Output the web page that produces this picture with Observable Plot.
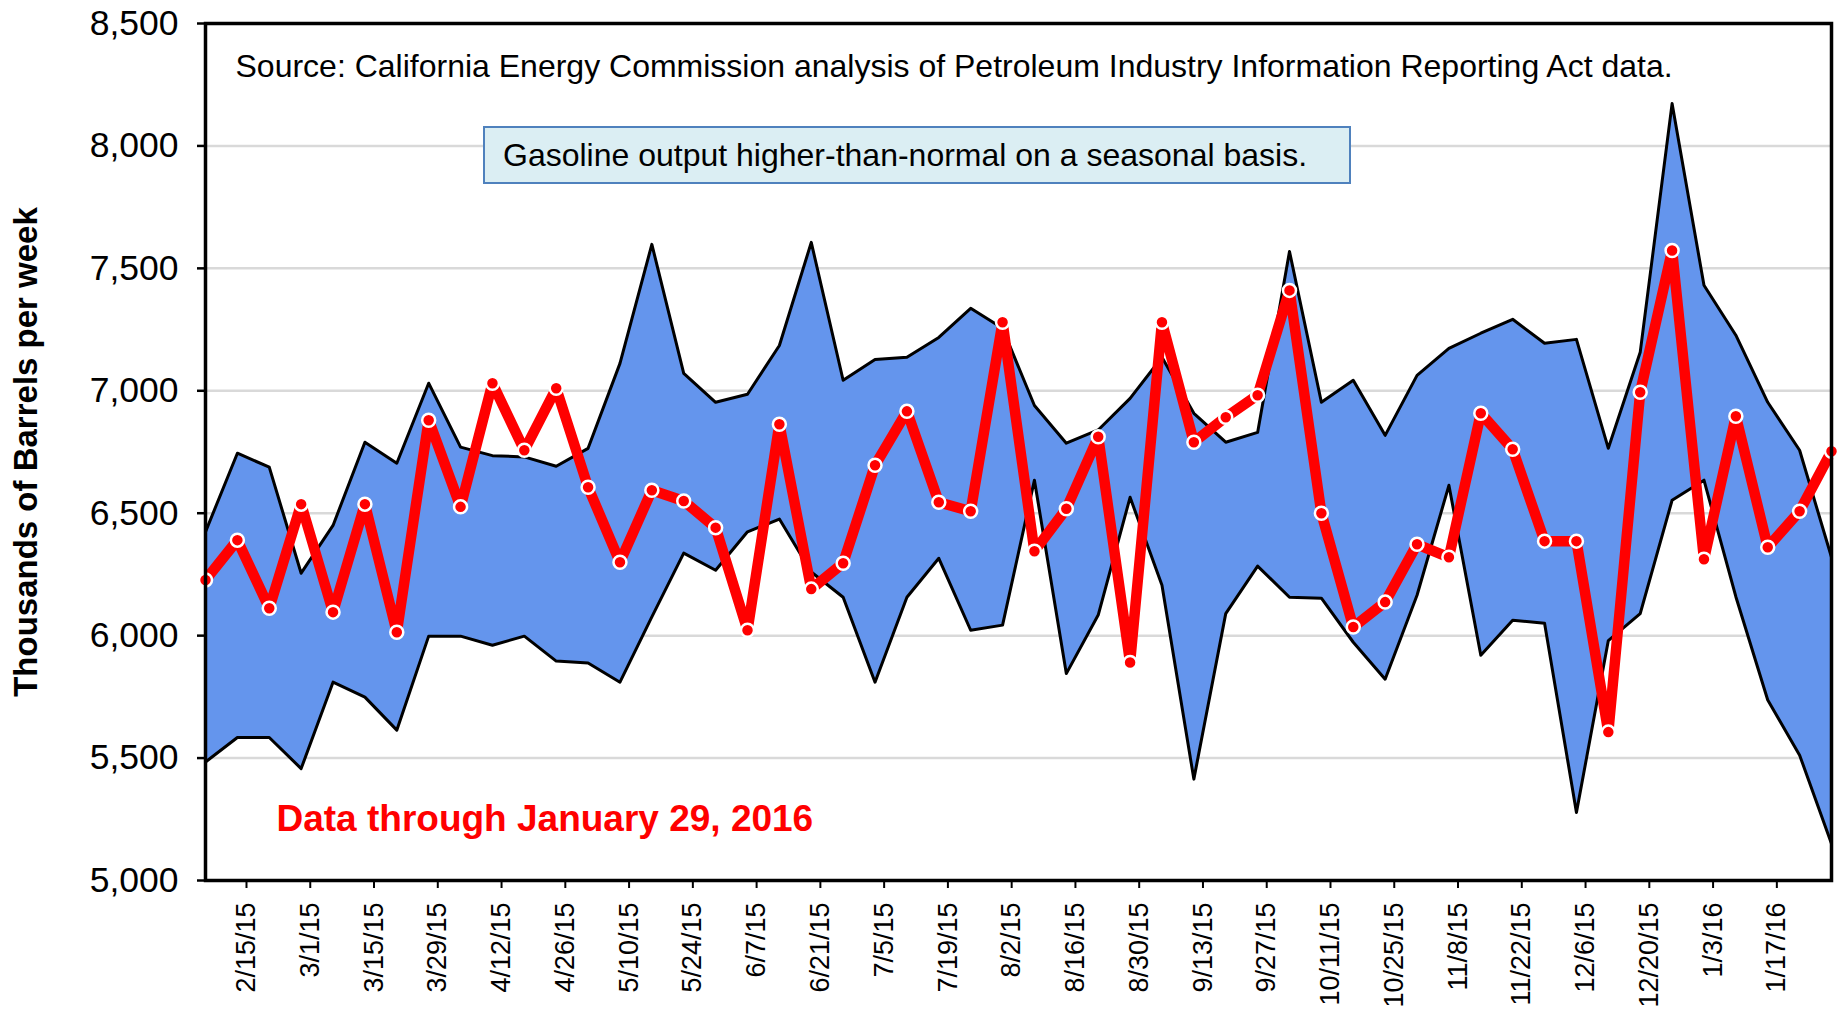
<!DOCTYPE html>
<html>
<head>
<meta charset="utf-8">
<script src="https://cdn.jsdelivr.net/npm/d3@7"></script>
<script src="https://cdn.jsdelivr.net/npm/@observablehq/plot@0.6"></script>
<style>
  html, body { margin: 0; padding: 0; background: #fff; overflow: hidden; }
  #wrap { position: relative; width: 1839px; height: 1010px; font-family: "Liberation Sans", Arial, sans-serif; }
  #note {
    position: absolute; left: 483px; top: 126px; width: 868px; height: 58px;
    box-sizing: border-box; background: #DBEEF3; border: 2px solid #4F81BD;
    font-size: 32px; line-height: 54px; padding-left: 18px; color: #000; white-space: nowrap;
  }
</style>
</head>
<body>
<div id="wrap"></div>
<script>
// Week-ending dates (Fridays)
const weeks = [
  "2015-02-06","2015-02-13","2015-02-20","2015-02-27",
  "2015-03-06","2015-03-13","2015-03-20","2015-03-27",
  "2015-04-03","2015-04-10","2015-04-17","2015-04-24",
  "2015-05-01","2015-05-08","2015-05-15","2015-05-22","2015-05-29",
  "2015-06-05","2015-06-12","2015-06-19","2015-06-26",
  "2015-07-03","2015-07-10","2015-07-17","2015-07-24","2015-07-31",
  "2015-08-07","2015-08-14","2015-08-21","2015-08-28",
  "2015-09-04","2015-09-11","2015-09-18","2015-09-25",
  "2015-10-02","2015-10-09","2015-10-16","2015-10-23","2015-10-30",
  "2015-11-06","2015-11-13","2015-11-20","2015-11-27",
  "2015-12-04","2015-12-11","2015-12-18","2015-12-25",
  "2016-01-01","2016-01-08","2016-01-15","2016-01-22","2016-01-29"
];
// Gasoline output 2015-16 (thousands of barrels per week)
const gasoline = [6227, 6390, 6112, 6537, 6096, 6537, 6014, 6880, 6526, 7031,
  6757, 7010, 6606, 6300, 6594, 6550, 6441, 6022, 6863, 6190,
  6296, 6696, 6916, 6545, 6508, 7280, 6345, 6518, 6812, 5890,
  7280, 6790, 6892, 6982, 7410, 6500, 6035, 6137, 6373, 6320,
  6908, 6761, 6386, 6386, 5606, 6994, 7573, 6312, 6896, 6361,
  6508, 6753];
// Historical range (upper and lower bounds)
const rangeHigh = [6424, 6745, 6688, 6255, 6450, 6790, 6704, 7031, 6770, 6735,
  6730, 6692, 6765, 7112, 7598, 7071, 6953, 6986, 7185, 7606,
  7043, 7128, 7137, 7218, 7337, 7255, 6940, 6786, 6840, 6969,
  7137, 6908, 6790, 6830, 7569, 6953, 7043, 6818, 7063, 7173,
  7235, 7292, 7194, 7210, 6765, 7157, 8173, 7431, 7227, 6953,
  6757, 6320];
const rangeLow = [5484, 5584, 5584, 5457, 5810, 5749, 5614, 5998, 5998, 5961,
  5998, 5896, 5888, 5810, 6077, 6337, 6267, 6424, 6476, 6260,
  6157, 5810, 6157, 6316, 6022, 6043, 6635, 5845, 6084, 6565,
  6206, 5414, 6090, 6284, 6157, 6153, 5973, 5822, 6165, 6614,
  5920, 6063, 6051, 5278, 5980, 6090, 6553, 6635, 6159, 5737,
  5512, 5150];
const xTickLabels = ["2/15/15","3/1/15","3/15/15","3/29/15","4/12/15","4/26/15","5/10/15","5/24/15",
  "6/7/15","6/21/15","7/5/15","7/19/15","8/2/15","8/16/15","8/30/15","9/13/15","9/27/15",
  "10/11/15","10/25/15","11/8/15","11/22/15","12/6/15","12/20/15","1/3/16","1/17/16"];
const yTicks = [5000, 5500, 6000, 6500, 7000, 7500, 8000, 8500];
const yGrid = [5500, 6000, 6500, 7000, 7500, 8000];

const yTitle = "Thousands of Barrels per week";
const sourceText = "Source: California Energy Commission analysis of Petroleum Industry Information Reporting Act data.";
const noteText = "Gasoline output higher-than-normal on a seasonal basis.";
const dataNote = "Data through January 29, 2016";

const parseISO = d3.utcParse("%Y-%m-%d");
const parseTick = d3.utcParse("%m/%d/%y");
const fmtTick = d3.utcFormat("%-m/%-d/%y");

const rows = weeks.map((w, i) => ({date: parseISO(w), gas: gasoline[i], high: rangeHigh[i], low: rangeLow[i]}));
const tickDates = xTickLabels.map(parseTick);

const chart = Plot.plot({
  width: 1839,
  height: 1010,
  marginLeft: 205,
  marginRight: 8,
  marginTop: 23,
  marginBottom: 130,
  style: {fontFamily: "Liberation Sans, Arial, sans-serif", background: "white", color: "black"},
  x: {type: "utc", domain: [rows[0].date, rows[rows.length - 1].date]},
  y: {domain: [5000, 8500]},
  marks: [
    Plot.gridY(yGrid, {stroke: "#d9d9d9", strokeOpacity: 1, strokeWidth: 2.5}),
    Plot.areaY(rows, {x: "date", y1: "low", y2: "high", fill: "#6495ED"}),
    Plot.lineY(rows, {x: "date", y: "high", stroke: "black", strokeWidth: 3}),
    Plot.lineY(rows, {x: "date", y: "low", stroke: "black", strokeWidth: 3}),
    Plot.lineY(rows, {x: "date", y: "gas", stroke: "#FF0000", strokeWidth: 10.5}),
    Plot.dot(rows, {x: "date", y: "gas", r: 6.5, fill: "#FF0000", stroke: "white", strokeWidth: 2.5}),
    Plot.axisY(yTicks, {tickSize: 8, tickPadding: 19, tickFormat: d3.format(","), fontSize: 35.5, strokeWidth: 2.5}),
    Plot.axisX(tickDates, {tickSize: 8, tickPadding: 14, tickRotate: -90, tickFormat: fmtTick, fontSize: 27, strokeWidth: 2}),
    Plot.text([yTitle], {text: d => d, frameAnchor: "left", dx: -179, rotate: -90, textAnchor: "middle", fontWeight: "bold", fontSize: 33}),
    Plot.text([sourceText], {text: d => d, frameAnchor: "top-left", dx: 30, dy: 43, textAnchor: "start", lineAnchor: "middle", fontSize: 32}),
    Plot.text([dataNote], {text: d => d, frameAnchor: "bottom-left", dx: 71, dy: -61, textAnchor: "start", lineAnchor: "middle", fill: "#FF0000", fontWeight: "bold", fontSize: 37}),
    Plot.frame({stroke: "black", strokeWidth: 3.5})
  ]
});

const wrap = document.getElementById("wrap");
wrap.appendChild(chart);
const note = document.createElement("div");
note.id = "note";
note.textContent = noteText;
wrap.appendChild(note);
</script>
</body>
</html>
